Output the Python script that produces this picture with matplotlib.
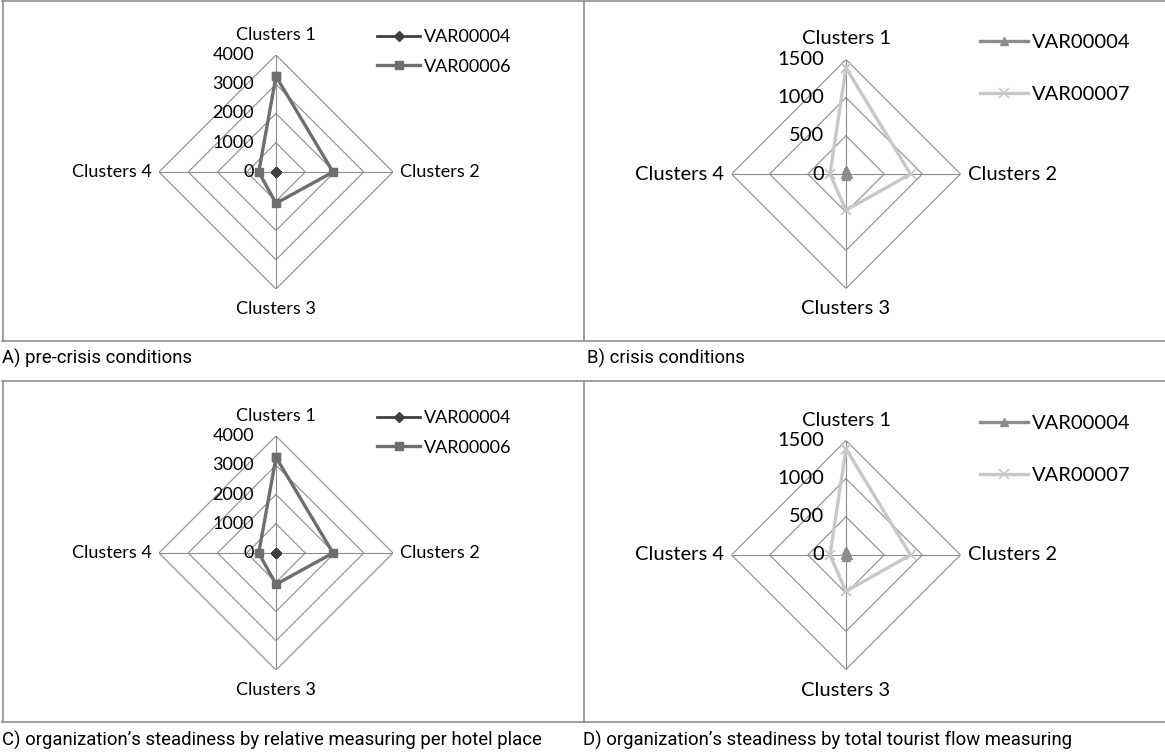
import numpy as np
import matplotlib.pyplot as plt
from matplotlib.lines import Line2D

W, H = 1165, 754

categories = ["Clusters 1", "Clusters 2", "Clusters 3", "Clusters 4"]

# relative measuring per hotel place (panels A and C)
var04_rel = [15, 10, 10, 10]
var06_rel = [3270, 1950, 1070, 590]
rel_ticks = [0, 1000, 2000, 3000, 4000]

# total tourist flow (panels B and D)
var04_tot = [55, 20, 25, 15]
var07_tot = [1390, 845, 475, 210]
tot_ticks = [0, 500, 1000, 1500]

captions = [
    "A) pre-crisis conditions",
    "B) crisis conditions",
    "C) organization\u2019s steadiness by relative measuring per hotel place",
    "D) organization\u2019s steadiness by total tourist flow measuring",
]

FONT = "Lato"
CAP_FONT = "Roboto"
GRID = "#8c8c8c"

fig = plt.figure(figsize=(W / 100, H / 100), dpi=100)


def radar(cx, cy, R, ticks, series, fs, leg_xy, leg_spacing):
    ax = fig.add_axes([(cx - R) / W, 1 - (cy + R) / H, 2 * R / W, 2 * R / H],
                      projection="polar")
    ax.set_theta_offset(np.pi / 2)
    ax.set_theta_direction(-1)
    ax.set_ylim(0, ticks[-1])
    ax.axis("off")

    ang = np.arange(len(categories)) * 2 * np.pi / len(categories)
    closed = np.append(ang, ang[0])
    for lvl in ticks[1:]:
        ax.plot(closed, [lvl] * len(closed), color=GRID, lw=0.8, zorder=1)
    for a in ang:
        ax.plot([a, a], [0, ticks[-1]], color=GRID, lw=0.8, zorder=1)

    for lvl in ticks:
        ax.annotate(str(lvl), xy=(0, lvl), xytext=(-22, 0), textcoords="offset pixels",
                    ha="right", va="center", fontsize=fs, family=FONT)

    offs = [(0, 12, "center", "bottom"), (7, 0, "left", "center"),
            (0, -12, "center", "top"), (-7, 0, "right", "center")]
    for a, lab, (dx, dy, ha, va) in zip(ang, categories, offs):
        ax.annotate(lab, xy=(a, ticks[-1]), xytext=(dx, dy), textcoords="offset pixels",
                    ha=ha, va=va, fontsize=fs, family=FONT)

    handles = []
    for vals, name, color, lw, marker, ms, mew in series:
        h, = ax.plot(closed, np.append(vals, vals[0]), color=color, lw=lw,
                     marker=marker, ms=ms, mew=mew, mec=color, mfc=color,
                     label=name, clip_on=False, zorder=3)
        handles.append(h)

    ax.legend(handles=handles, loc="upper left",
              bbox_to_anchor=(leg_xy[0] / W, 1 - leg_xy[1] / H),
              bbox_transform=fig.transFigure, frameon=False,
              prop={"family": FONT, "size": fs}, handlelength=2.4,
              handletextpad=0.2, labelspacing=leg_spacing,
              borderpad=0, borderaxespad=0)


rel_series = [
    (var04_rel, "VAR00004", "#404040", 2.0, "D", 5.5, 1),
    (var06_rel, "VAR00006", "#6e6e6e", 2.4, "s", 5.5, 1),
]
tot_series = [
    (var04_tot, "VAR00004", "#8c8c8c", 2.4, "^", 6, 1),
    (var07_tot, "VAR00007", "#c8c8c8", 2.4, "x", 7, 1.2),
]

radar(276, 172, 117, rel_ticks, rel_series, 13, (377, 29), 0.75)
radar(846, 174, 114.5, tot_ticks, tot_series, 14.5, (980, 34), 1.75)
radar(276, 553, 117, rel_ticks, rel_series, 13, (377, 410), 0.75)
radar(846, 555, 114.5, tot_ticks, tot_series, 14.5, (980, 415), 1.75)

# panel frames
def hline(y, x0=2, x1=W):
    fig.add_artist(Line2D([x0 / W, x1 / W], [1 - y / H, 1 - y / H],
                          color="#8f8f8f", lw=1.2, transform=fig.transFigure))

def vline(x, y0, y1):
    fig.add_artist(Line2D([x / W, x / W], [1 - y0 / H, 1 - y1 / H],
                          color="#8f8f8f", lw=1.2, transform=fig.transFigure))

for y in [1, 341, 381, 722]:
    hline(y)
vline(2.5, 1, 341)
vline(2.5, 381, 722)
vline(584, 1, 341)
vline(584, 381, 722)

cap_pos = [(2, 358), (587, 358), (2, 740), (583, 740)]
for (x, y), txt in zip(cap_pos, captions):
    fig.text(x / W, 1 - y / H, txt, ha="left", va="center", fontsize=13.3,
             family=CAP_FONT)

fig.savefig("out.png", dpi=100)
